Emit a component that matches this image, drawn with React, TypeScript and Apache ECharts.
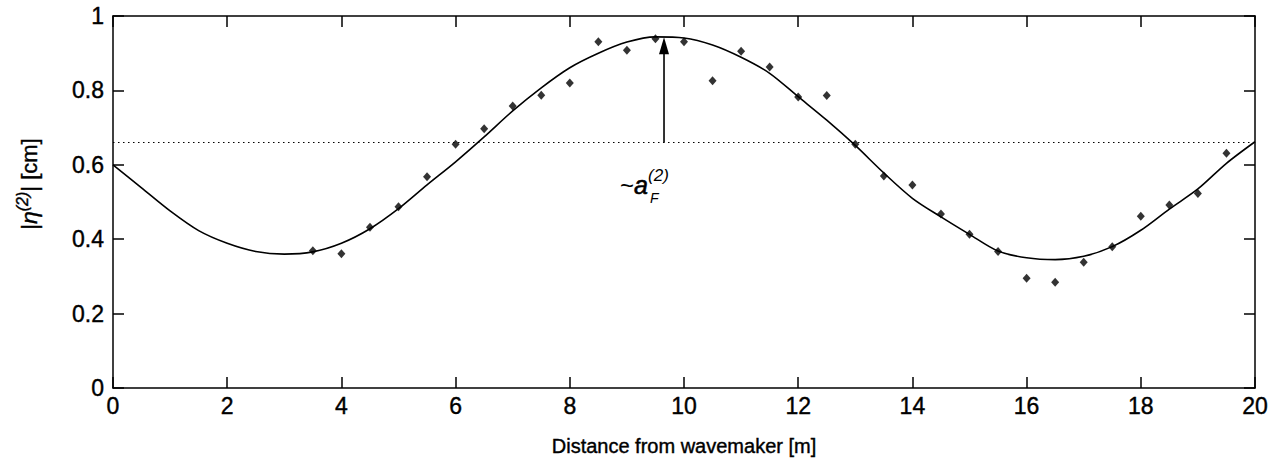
import React, { useEffect, useRef } from "react";
import * as echarts from "echarts";

// Measured |eta^(2)| amplitudes [cm] vs distance [m]
const measuredX = [3.5, 4, 4.5, 5, 5.5, 6, 6.5, 7, 7.5, 8, 8.5, 9, 9.5, 10, 10.5, 11, 11.5, 12, 12.5, 13, 13.5, 14, 14.5, 15, 15.5, 16, 16.5, 17, 17.5, 18, 18.5, 19, 19.5];
const measuredY = [0.369, 0.361, 0.432, 0.487, 0.568, 0.655, 0.697, 0.758, 0.787, 0.82, 0.931, 0.908, 0.939, 0.931, 0.826, 0.905, 0.863, 0.782, 0.786, 0.655, 0.57, 0.546, 0.468, 0.413, 0.367, 0.295, 0.284, 0.338, 0.38, 0.462, 0.492, 0.523, 0.631];

// Theoretical curve
const fitX = [0, 0.5, 1, 1.5, 2, 2.5, 3, 3.5, 4, 4.5, 5, 5.5, 6, 6.5, 7, 7.5, 8, 8.5, 9, 9.5, 10, 10.5, 11, 11.5, 12, 12.5, 13, 13.5, 14, 14.5, 15, 15.5, 16, 16.5, 17, 17.5, 18, 18.5, 19, 19.5, 20];
const fitY = [0.6, 0.538, 0.476, 0.423, 0.389, 0.367, 0.36, 0.366, 0.389, 0.428, 0.482, 0.546, 0.608, 0.675, 0.745, 0.807, 0.861, 0.9, 0.93, 0.944, 0.941, 0.922, 0.889, 0.846, 0.783, 0.72, 0.652, 0.578, 0.51, 0.46, 0.413, 0.368, 0.35, 0.345, 0.354, 0.38, 0.424, 0.481, 0.535, 0.604, 0.662];

// Mean level and annotation arrow
const levelY = 0.66;
const arrowX = 9.65;
const arrowFrom = 0.66;
const arrowTo = 0.943;

const xTickInterval = 2;
const yTickInterval = 0.2;

const FONT = "'Liberation Sans', Arial, Helvetica, sans-serif";

const mkLine = () => ({ show: true, onZero: false, lineStyle: { color: "#000", width: 1.5 } });
const mkTick = () => ({ show: true, inside: true, length: 11, lineStyle: { color: "#000", width: 1.5 } });
const mkLabel = (margin: number) => ({
  show: true,
  color: "#000",
  fontSize: 23,
  fontFamily: FONT,
  margin,
  textBorderColor: "#000",
  textBorderWidth: 0.4,
});

export default function App() {
  const ref = useRef<HTMLDivElement>(null);

  useEffect(() => {
    document.body.style.margin = "0";
    const chart = echarts.init(ref.current!, null, { renderer: "svg" });

    chart.setOption({
      animation: false,
      backgroundColor: "#fff",
      grid: { left: 113, right: 26, top: 16, bottom: 88, containLabel: false },
      xAxis: [
        {
          type: "value",
          gridIndex: 0,
          min: 0,
          max: 20,
          interval: xTickInterval,
          position: "bottom",
          axisLine: mkLine(),
          axisTick: mkTick(),
          splitLine: { show: false },
          axisLabel: mkLabel(6),
          name: "Distance from wavemaker [m]",
          nameLocation: "middle",
          nameGap: 48,
          nameTextStyle: { color: "#000", fontSize: 20, fontFamily: FONT, textBorderColor: "#000", textBorderWidth: 0.4 },
        },
        {
          type: "value",
          gridIndex: 0,
          min: 0,
          max: 20,
          interval: xTickInterval,
          position: "top",
          axisLine: mkLine(),
          axisTick: mkTick(),
          splitLine: { show: false },
          axisLabel: { show: false },
        },
      ],
      yAxis: [
        {
          type: "value",
          gridIndex: 0,
          min: 0,
          max: 1,
          interval: yTickInterval,
          position: "left",
          axisLine: mkLine(),
          axisTick: mkTick(),
          splitLine: { show: false },
          axisLabel: mkLabel(9),
        },
        {
          type: "value",
          gridIndex: 0,
          min: 0,
          max: 1,
          interval: yTickInterval,
          position: "right",
          axisLine: mkLine(),
          axisTick: mkTick(),
          splitLine: { show: false },
          axisLabel: { show: false },
        },
      ],
      series: [
        {
          type: "line",
          xAxisIndex: 0,
          yAxisIndex: 0,
          data: fitX.map((x, i) => [x, fitY[i]]),
          showSymbol: false,
          symbol: "none",
          smooth: 0.3,
          lineStyle: { color: "#000", width: 1.6 },
          markLine: {
            silent: true,
            symbol: ["none", "none"],
            label: { show: false },
            lineStyle: { color: "#000", width: 1.2, type: [1.5, 3.5] },
            data: [{ yAxis: levelY }],
          },
          z: 2,
        },
        {
          type: "scatter",
          xAxisIndex: 0,
          yAxisIndex: 0,
          data: measuredX.map((x, i) => [x, measuredY[i]]),
          symbol: "diamond",
          symbolSize: [8, 9],
          itemStyle: { color: "#000" },
          z: 3,
        },
        {
          type: "line",
          xAxisIndex: 1,
          yAxisIndex: 1,
          data: [],
          symbol: "none",
        },
      ],
    });

    const base = chart.convertToPixel({ xAxisIndex: 0, yAxisIndex: 0 }, [arrowX, arrowFrom]) as number[];
    const tip = chart.convertToPixel({ xAxisIndex: 0, yAxisIndex: 0 }, [arrowX, arrowTo]) as number[];
    const headH = 17;
    const headW = 10;

    chart.setOption({
      graphic: [
        {
          type: "line",
          shape: { x1: base[0], y1: base[1], x2: tip[0], y2: tip[1] + headH - 2 },
          style: { stroke: "#000", lineWidth: 1.6 },
          z: 10,
        },
        {
          type: "polygon",
          shape: {
            points: [
              [tip[0], tip[1]],
              [tip[0] - headW / 2, tip[1] + headH],
              [tip[0] + headW / 2, tip[1] + headH],
            ],
          },
          style: { fill: "#000" },
          z: 10,
        },
        {
          type: "text",
          x: base[0] - 16,
          y: base[1] + 43,
          style: {
            text: "~{i|a}",
            fontSize: 24,
            fontFamily: FONT,
            fill: "#000",
            align: "right",
            verticalAlign: "middle",
            rich: {
              i: { fontSize: 25, fontStyle: "italic", fontFamily: FONT, fill: "#000", stroke: "#000", lineWidth: 0.6 },
            },
          },
          z: 10,
        },
        {
          type: "text",
          x: base[0] - 16,
          y: base[1] + 33,
          style: {
            text: "(2)",
            fontSize: 17,
            fontStyle: "italic",
            fontFamily: FONT,
            fill: "#000",
            align: "left",
            verticalAlign: "middle",
          },
          z: 10,
        },
        {
          type: "text",
          x: base[0] - 14,
          y: base[1] + 56,
          style: {
            text: "F",
            fontSize: 14,
            fontStyle: "italic",
            fontFamily: FONT,
            fill: "#000",
            align: "left",
            verticalAlign: "middle",
          },
          z: 10,
        },
        {
          type: "text",
          x: 29,
          y: 184,
          rotation: Math.PI / 2,
          style: {
            text: "|{n|η}{s|(2)}| [cm]",
            fontSize: 22,
            fontFamily: FONT,
            fill: "#000",
            stroke: "#000",
            lineWidth: 0.4,
            align: "center",
            verticalAlign: "middle",
            lineHeight: 30,
            rich: {
              n: { fontSize: 23, fontStyle: "italic", fontFamily: FONT, fill: "#000", stroke: "#000", lineWidth: 0.4, lineHeight: 30 },
              s: { fontSize: 16, fontStyle: "italic", fontFamily: FONT, fill: "#000", lineHeight: 16, verticalAlign: "top" },
            },
          },
          z: 10,
        },
      ],
    });

    return () => chart.dispose();
  }, []);

  return (
    <div
      ref={ref}
      style={{ position: "absolute", left: 0, top: 0, width: 1281, height: 476, background: "#fff" }}
    />
  );
}
